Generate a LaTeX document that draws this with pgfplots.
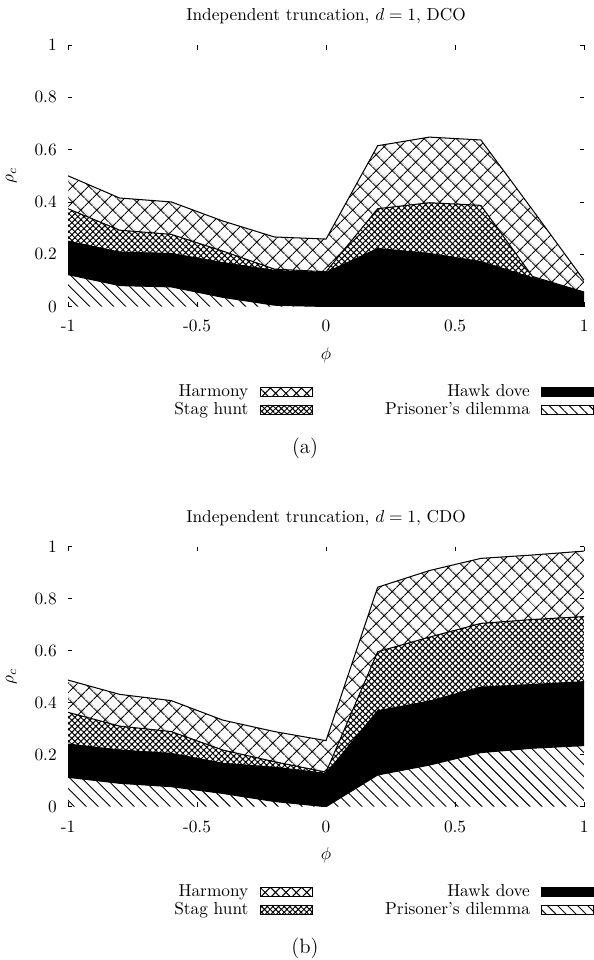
\documentclass[border=0pt]{standalone}
\usepackage{pgfplots}
\usepackage{pgfplotstable}
\pgfplotsset{compat=1.18}
\usepgfplotslibrary{fillbetween}
\usetikzlibrary{patterns.meta}

\pgfplotstableread{
x     pd     hd     sh     ha
-1    0.122  0.250  0.374  0.500
-0.8  0.080  0.208  0.292  0.415
-0.6  0.075  0.203  0.276  0.400
-0.4  0.035  0.168  0.212  0.327
-0.2  0.005  0.138  0.143  0.266
0     0.000  0.130  0.133  0.258
0.2   0.000  0.222  0.374  0.615
0.4   0.000  0.203  0.397  0.648
0.6   0.000  0.172  0.387  0.637
0.8   0.000  0.110  0.115  0.370
1     0.000  0.055  0.055  0.100
}\dco

\pgfplotstableread{
x     pd     hd     sh     ha
-1    0.113  0.241  0.363  0.487
-0.8  0.090  0.218  0.310  0.432
-0.6  0.077  0.205  0.289  0.408
-0.4  0.051  0.167  0.218  0.333
-0.2  0.020  0.152  0.173  0.289
0     0.000  0.128  0.133  0.254
0.2   0.122  0.369  0.596  0.844
0.4   0.160  0.406  0.652  0.908
0.6   0.208  0.460  0.705  0.955
0.8   0.225  0.470  0.720  0.968
1     0.235  0.481  0.731  0.983
}\cdo

\tikzset{
  harm/.style={pattern={Hatch[angle=45,distance=6.4pt,line width=0.65pt]}},
  stag/.style={pattern={Hatch[angle=45,distance=2.45pt,line width=0.6pt]}},
  pdst/.style={pattern={Lines[angle=-45,distance=4.9pt,line width=0.55pt]}},
  lharm/.style={pattern={Hatch[angle=45,distance=4.25pt,line width=0.6pt]}},
  lstag/.style={pattern={Hatch[angle=45,distance=2.3pt,line width=0.55pt]}},
  lpd/.style={pattern={Lines[angle=-45,distance=4.1pt,line width=0.55pt]}},
}

\pgfplotsset{
  myax/.style={
    scale only axis, width=298.3pt,
    xmin=-1, xmax=1, ymin=0, ymax=1,
    xtick={-1,-0.5,0,0.5,1}, xticklabels={-1,-0.5,0,0.5,1},
    ytick={0,0.2,0.4,0.6,0.8,1}, yticklabels={0,0.2,0.4,0.6,0.8,1},
    tick align=inside, major tick length=2.6pt,
    tick style={black, line width=0.5pt},
    axis line style={draw=none},
    axis on top,
    xticklabel style={yshift=-4.5pt},
    yticklabel style={xshift=-3pt},
    xlabel={$\phi$}, ylabel={$\rho_c$},
    xlabel style={at={(axis description cs:0.5,-0.185)}, anchor=center},
    ylabel style={at={(axis description cs:-0.1097,0.5)}, anchor=center},
    every axis title shift=0pt,
    title style={at={(axis description cs:0.5,1.111)}, anchor=center},
    legend plot pos=right, legend cell align=right,
    legend style={draw=none, fill=none, inner sep=0pt, outer sep=0pt,
      at={(axis description cs:1.0194,-0.298)}, anchor=north east,
      legend columns=2, row sep=1.4pt,
      nodes={inner sep=0pt, text height=7pt, text depth=2pt},
      /tikz/every odd column/.append style={column sep=6.5pt},
      /tikz/column 2/.append style={column sep=42pt}},
    legend image code/.code={\draw[line width=0.6pt,##1] (0pt,-2.7pt) rectangle (30pt,2.7pt);},
  },
  bnd/.style={black, line width=0.6pt, forget plot},
}

\begin{document}
\begin{tikzpicture}

\begin{axis}[myax, height=151.1pt, at={(39.304pt,-177.157pt)}, anchor=south west,
  title={Independent truncation, $d=1$, DCO}]
\addlegendimage{lharm}\addlegendentry{Harmony}
\addlegendimage{fill=black}\addlegendentry{Hawk dove}
\addlegendimage{lstag}\addlegendentry{Stag hunt}
\addlegendimage{lpd}\addlegendentry{Prisoner's dilemma}
\addplot[draw=none, name path=zero, forget plot] coordinates {(-1,0) (1,0)};
\addplot[bnd, name path=pd] table[x=x,y=pd] {\dco};
\addplot[bnd, name path=hd] table[x=x,y=hd] {\dco};
\addplot[bnd, name path=sh] table[x=x,y=sh] {\dco};
\addplot[bnd, name path=ha] table[x=x,y=ha] {\dco};
\addplot[pdst, forget plot] fill between[of=pd and zero];
\addplot[fill=black, forget plot] fill between[of=hd and pd];
\addplot[stag, forget plot] fill between[of=sh and hd];
\addplot[harm, forget plot] fill between[of=ha and sh];
\end{axis}

\begin{axis}[myax, height=150.3pt, at={(39.304pt,-466.273pt)}, anchor=south west,
  title={Independent truncation, $d=1$, CDO}]
\addlegendimage{lharm}\addlegendentry{Harmony}
\addlegendimage{fill=black}\addlegendentry{Hawk dove}
\addlegendimage{lstag}\addlegendentry{Stag hunt}
\addlegendimage{lpd}\addlegendentry{Prisoner's dilemma}
\addplot[draw=none, name path=zero, forget plot] coordinates {(-1,0) (1,0)};
\addplot[bnd, name path=pd] table[x=x,y=pd] {\cdo};
\addplot[bnd, name path=hd] table[x=x,y=hd] {\cdo};
\addplot[bnd, name path=sh] table[x=x,y=sh] {\cdo};
\addplot[bnd, name path=ha] table[x=x,y=ha] {\cdo};
\addplot[pdst, forget plot] fill between[of=pd and zero];
\addplot[fill=black, forget plot] fill between[of=hd and pd];
\addplot[stag, forget plot] fill between[of=sh and hd];
\addplot[harm, forget plot] fill between[of=ha and sh];
\end{axis}

\node[font=\large] at (176.29pt,-258.94pt) {(a)};
\node[font=\large] at (176.29pt,-548.12pt) {(b)};
\pgfresetboundingbox
\useasboundingbox (0pt,0pt) rectangle (343.33pt,-554.88pt);
\end{tikzpicture}
\end{document}
